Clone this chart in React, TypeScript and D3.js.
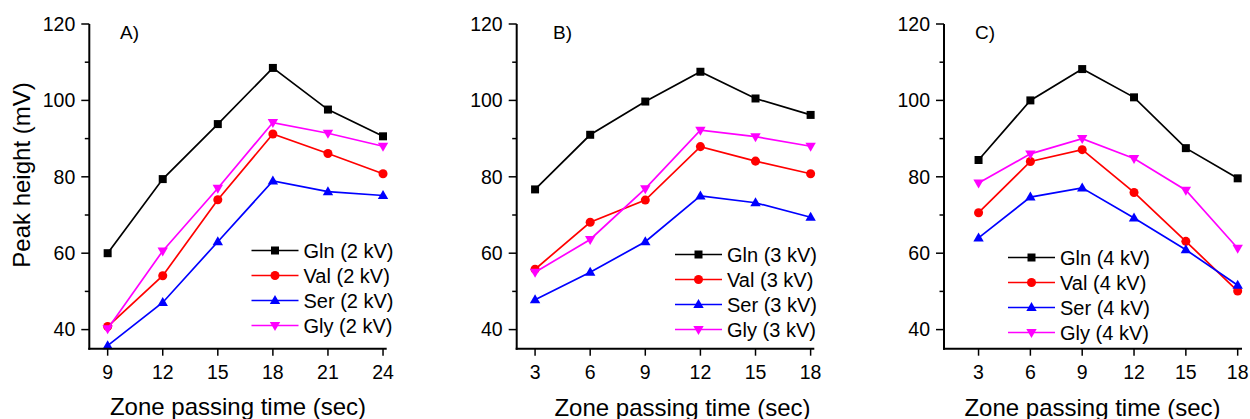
import React from 'react';
import * as d3 from 'd3';

const seriesNames = ['Gln', 'Val', 'Ser', 'Gly'];
const seriesColors = ['#000000', '#ff0000', '#0000ff', '#ff00ff'];
const seriesShapes = ['square', 'circle', 'up', 'down'];

const timesA = [9, 12, 15, 18, 21, 24];
const timesBC = [3, 6, 9, 12, 15, 18];

const glnA = [60.0, 79.4, 93.8, 108.5, 97.6, 90.6];
const valA = [40.8, 54.1, 74.0, 91.2, 86.1, 80.8];
const serA = [35.8, 47.1, 63.0, 78.9, 76.1, 75.1];
const glyA = [40.2, 60.6, 77.0, 94.2, 91.4, 88.0];

const glnB = [76.7, 91.0, 99.7, 107.5, 100.5, 96.2];
const valB = [55.8, 68.1, 73.9, 87.9, 84.1, 80.8];
const serB = [47.8, 55.0, 63.0, 75.0, 73.2, 69.4];
const glyB = [55.0, 63.6, 76.9, 92.2, 90.5, 88.0];

const glnC = [84.4, 100.0, 108.2, 100.8, 87.5, 79.6];
const valC = [70.6, 84.0, 87.1, 75.9, 63.1, 50.1];
const serC = [64.0, 74.7, 77.1, 69.2, 60.9, 51.6];
const glyC = [78.4, 86.0, 90.0, 84.8, 76.5, 61.3];

const yTicks = [40, 60, 80, 100, 120];
const yMinorTicks = [50, 70, 90, 110];

const FONT = '"Liberation Sans", Arial, sans-serif';

interface PanelSpec {
  label: string;
  kv: string;
  times: number[];
  values: number[][];
  xDomain: [number, number];
  xRange: [number, number];
  labelX: number;
  legendX: number;
  legendY: number;
  titleX: number;
  titleY: number;
}

const panels: PanelSpec[] = [
  {
    label: 'A)', kv: '2 kV', times: timesA, values: [glnA, valA, serA, glyA],
    xDomain: [8, 24.2], xRange: [89.3, 386.7], labelX: 120,
    legendX: 275, legendY: 250.5, titleX: 238, titleY: 414.5,
  },
  {
    label: 'B)', kv: '3 kV', times: timesBC, values: [glnB, valB, serB, glyB],
    xDomain: [2, 18.2], xRange: [516.7, 814.3], labelX: 553,
    legendX: 698.5, legendY: 254.5, titleX: 682.5, titleY: 415.5,
  },
  {
    label: 'C)', kv: '4 kV', times: timesBC, values: [glnC, valC, serC, glyC],
    xDomain: [1, 18.25], xRange: [944, 1242], labelX: 975,
    legendX: 1031.5, legendY: 257.5, titleX: 1092.5, titleY: 415.5,
  },
];

const yScale = d3.scaleLinear().domain([35, 120]).range([348.7, 24]);

function markerPath(shape: string): string {
  if (shape === 'square') return 'M-4,-4H4V4H-4Z';
  if (shape === 'circle') return d3.symbol(d3.symbolCircle, 64)() || '';
  if (shape === 'up') return 'M0,-5.5L5.2,3.5H-5.2Z';
  return 'M0,5.5L5.2,-3.5H-5.2Z';
}

const Panel: React.FC<{ p: PanelSpec }> = ({ p }) => {
  const x = d3.scaleLinear().domain(p.xDomain).range(p.xRange);
  const line = d3.line<[number, number]>()
    .x(d => x(d[0]))
    .y(d => yScale(d[1]));
  const [x0, x1] = p.xRange;
  const yBottom = yScale(35);
  const yTop = yScale(120);

  return (
    <g>
      {/* series */}
      {p.values.map((vals, si) => {
        const pts = p.times.map((t, i) => [t, vals[i]] as [number, number]);
        return (
          <g key={si}>
            <path d={line(pts) || ''} fill="none" stroke={seriesColors[si]} strokeWidth={1.7} />
            {pts.map((d, i) => (
              <path key={i} d={markerPath(seriesShapes[si])}
                transform={`translate(${x(d[0])},${yScale(d[1])})`}
                fill={seriesColors[si]} />
            ))}
          </g>
        );
      })}

      {/* axes */}
      <line x1={x0} x2={x0} y1={yTop} y2={yBottom + 1} stroke="#000" strokeWidth={2} />
      <line x1={x0 - 1} x2={x1} y1={yBottom} y2={yBottom} stroke="#000" strokeWidth={2} />
      {yTicks.map(t => (
        <g key={t}>
          <line x1={x0 - 8} x2={x0} y1={yScale(t)} y2={yScale(t)} stroke="#000" strokeWidth={1.5} />
          <text x={x0 - 14} y={yScale(t)} dy="0.35em" textAnchor="end"
            fontSize={19.5} fontFamily={FONT} fill="#000">{t}</text>
        </g>
      ))}
      {yMinorTicks.map(t => (
        <line key={t} x1={x0 - 4.5} x2={x0} y1={yScale(t)} y2={yScale(t)} stroke="#000" strokeWidth={1.5} />
      ))}
      {p.times.map(t => (
        <g key={t}>
          <line x1={x(t)} x2={x(t)} y1={yBottom} y2={yBottom + 7} stroke="#000" strokeWidth={1.5} />
          <text x={x(t)} y={379} textAnchor="middle"
            fontSize={19.5} fontFamily={FONT} fill="#000">{t}</text>
        </g>
      ))}

      <text x={p.labelX} y={39} fontSize={19} fontFamily={FONT} fill="#000">{p.label}</text>

      {/* legend */}
      {seriesNames.map((name, si) => {
        const ly = p.legendY + si * 25;
        return (
          <g key={name}>
            <line x1={p.legendX - 23.5} x2={p.legendX + 23.5} y1={ly} y2={ly}
              stroke={seriesColors[si]} strokeWidth={1.7} />
            <path d={markerPath(seriesShapes[si])} transform={`translate(${p.legendX},${ly})`}
              fill={seriesColors[si]} />
            <text x={p.legendX + 28.5} y={ly} dy="0.35em" fontSize={20} fontFamily={FONT}
              fill="#000">{`${name} (${p.kv})`}</text>
          </g>
        );
      })}

      <text x={p.titleX} y={p.titleY} textAnchor="middle" fontSize={24} fontFamily={FONT}
        fill="#000">Zone passing time (sec)</text>
    </g>
  );
};

export default function App() {
  return (
    <svg width={1250} height={419} viewBox="0 0 1250 419"
      style={{ position: 'absolute', left: 0, top: 0, background: '#fff' }}>
      <rect width={1250} height={419} fill="#fff" />
      <text transform="translate(30,175) rotate(-90)" textAnchor="middle" fontSize={24}
        fontFamily={FONT} fill="#000">Peak height (mV)</text>
      {panels.map(p => <Panel key={p.label} p={p} />)}
    </svg>
  );
}
